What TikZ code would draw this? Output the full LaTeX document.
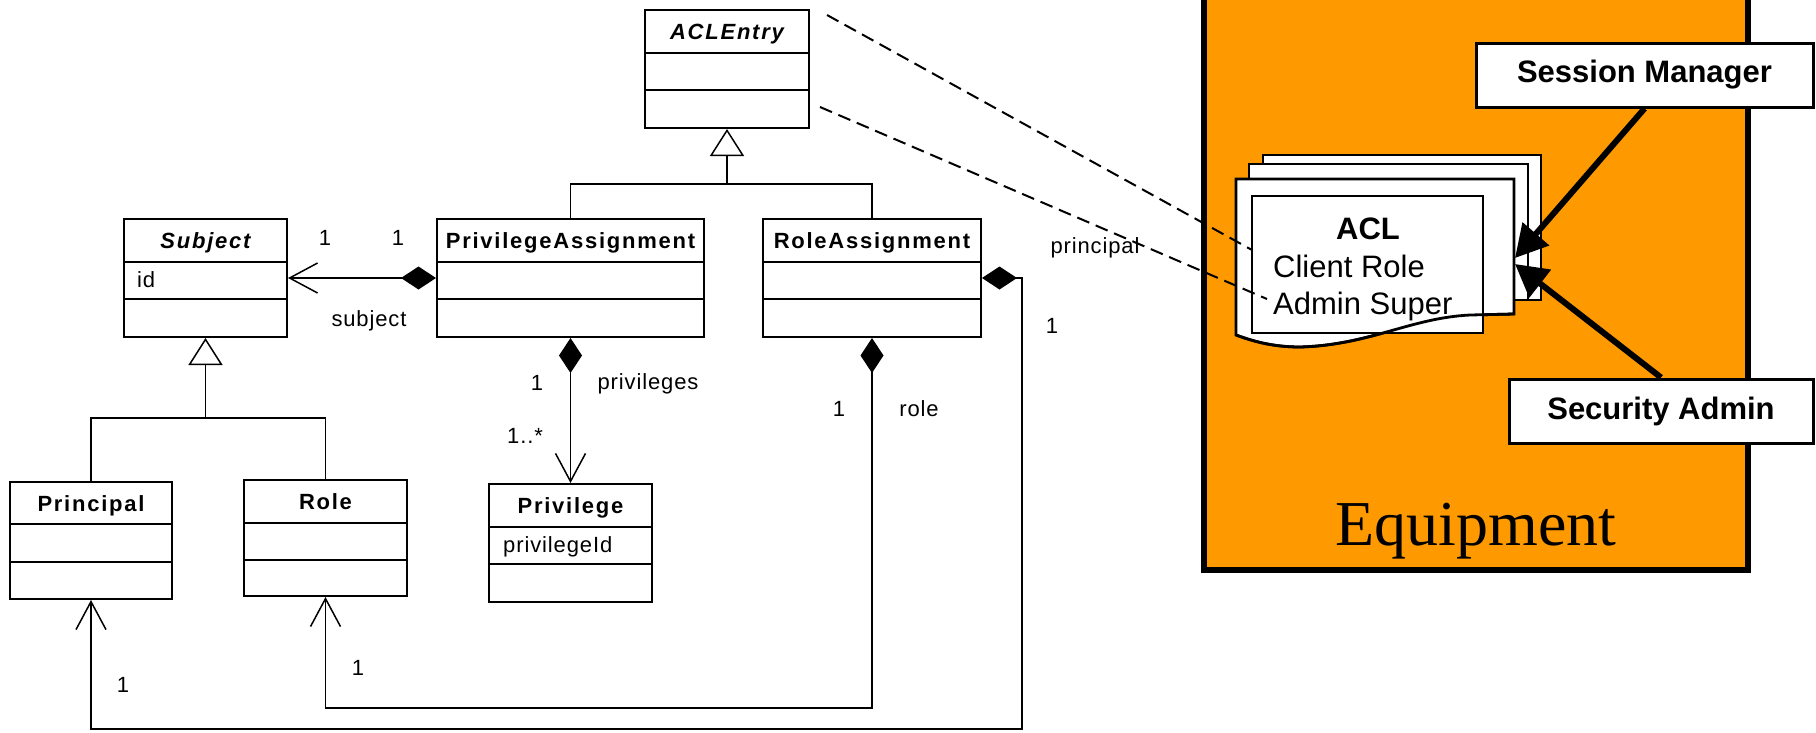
\documentclass[tikz,border=0pt]{standalone}
\usepackage{fontspec}
\setmainfont{Liberation Sans}
\newfontfamily\lblfont[LetterSpace=4]{Liberation Sans}
\newfontfamily\titlefont[LetterSpace=8]{Liberation Sans}
\newfontfamily\eqfont{Liberation Serif}
\usetikzlibrary{fit,arrows.meta}
\definecolor{eqorange}{HTML}{FF9900}

% UML class: name, left, top, right, first separator, second separator, bottom, title
\newcommand\umlclass[8]{%
  \node[classbox, fit={(#2,#3) (#4,#7)}] (#1) {};
  \draw[line width=2pt] (#2,#5) -- (#4,#5) (#2,#6) -- (#4,#6);
  \node[titletext, anchor=base] (#1-title) at ({(#2+#4)/2},{(#3+#5)/2+8}) {#8};
}

\begin{document}
\begin{tikzpicture}[x=1pt, y=-1pt,
  classbox/.style={draw, line width=2pt, fill=white, inner sep=0pt},
  titletext/.style={font=\titlefont\bfseries\fontsize{22pt}{26pt}\selectfont, inner sep=0pt},
  lbl/.style={font=\lblfont\fontsize{22pt}{26pt}\selectfont, inner sep=0pt, anchor=base},
  umlline/.style={line width=1.5pt},
  comp/.style={umlline, {Diamond[length=35pt,width=23pt]}-{Straight Barb[length=28pt,width=30pt]}},
  gen/.style={umlline, -{Triangle[open,length=27pt,width=34pt,fill=white]}},
  page/.style={draw, fill=white, line width=2.8pt, line join=miter},
  trace/.style={line width=2pt, dash pattern=on 13pt off 7pt},
  feed/.style={line width=6pt, -{Triangle[length=32pt,width=34pt]}},
  actor/.style={draw, line width=3pt, fill=white, inner sep=0pt,
    font=\bfseries\fontsize{31pt}{36pt}\selectfont},
  acltext/.style={font=\fontsize{31pt}{36pt}\selectfont, inner sep=0pt}
]
\useasboundingbox (0,0) rectangle (1816,732);
\fill[white] (0,0) rectangle (1816,732);

% ---------- class diagram ----------
\umlclass{aclentry}{645}{10}{809}{53}{90}{128}{\itshape ACLEntry}
\umlclass{subject}{124}{219}{287}{262}{299}{337}{\itshape Subject}
\umlclass{pa}{437}{219}{704}{262}{299}{337}{PrivilegeAssignment}
\umlclass{ra}{763}{219}{981}{262}{299}{337}{RoleAssignment}
\umlclass{principal}{10}{482}{172}{524}{562}{599}{Principal}
\umlclass{role}{244}{480}{407}{523}{560}{596}{Role}
\umlclass{priv}{489}{484}{652}{527}{564}{602}{Privilege}

\node[lbl, anchor=base west] (subject-id) at (137,287) {id};
\node[lbl, anchor=base west] (priv-id) at (503,552) {privilegeId};

% generalizations
\coordinate (entryjoin) at (727,184);
\draw[umlline] (pa.north) |- (entryjoin) -| (ra.north);
\draw[gen] (entryjoin) -- (aclentry.south);
\coordinate (subjjoin) at (205.5,418);
\draw[umlline] (principal.north) |- (subjjoin) -| (role.north);
\draw[gen] (subjjoin) -- (subject.south);

% compositions
\draw[comp] (pa.west) -- (subject.east);
\draw[comp] (pa.south) -- (priv.north);
\coordinate (rolerun) at (872,708);
\draw[comp] (ra.south) -- (rolerun) -| (role.south);
\coordinate (princturn) at (1022,278);
\coordinate (princrun) at (1022,729);
\draw[comp] (ra.east) -- (princturn) -- (princrun) -| (principal.south);

% multiplicities and role names
\node[lbl] (m-subj) at (325,245) {1};
\node[lbl] (m-pa) at (398,245) {1};
\node[lbl] (r-subject) at (369,326) {subject};
\node[lbl] (m-pa2) at (537,390) {1};
\node[lbl] (r-priv) at (648,389) {privileges};
\node[lbl] (m-priv) at (525,443) {1..*};
\node[lbl] (m-ra) at (839,416) {1};
\node[lbl] (r-role) at (919,416) {role};
\node[lbl] (m-role) at (358,675) {1};
\node[lbl] (m-princ) at (123,692) {1};
\node[lbl] (m-ra2) at (1052,333) {1};
\node[lbl] (r-princ) at (1095,253) {principal};

% ---------- equipment ----------
\node[draw, line width=6pt, fill=eqorange, minimum width=544pt, minimum height=590pt,
  inner sep=0pt] (equipment) at (1476,275) {};
\node[font=\eqfont\fontsize{64pt}{70pt}\selectfont, inner sep=0pt, anchor=base]
  (eqlabel) at (1476,545) {Equipment};

% ACL document stack
\draw[page] (1263,155) rectangle (1541,300);
\draw[page] (1249,164) rectangle (1528,300);
\draw[page] (1236,179) -- (1514,179) -- (1514,314) -- (1470,315)
  .. controls (1410,318) and (1370,345) .. (1300,347)
  .. controls (1270,347) and (1250,340) .. (1236,335) -- cycle;
\node[draw, fill=white, line width=2.8pt, minimum width=231pt, minimum height=137pt,
  inner sep=0pt] (acl) at (1367.5,264.5) {};
\draw[line width=2.8pt] (1514,314) -- (1470,315)
  .. controls (1410,318) and (1370,345) .. (1300,347)
  .. controls (1270,347) and (1250,340) .. (1236,335);
\node[acltext, font=\bfseries\fontsize{31pt}{36pt}\selectfont, anchor=base]
  (acl-title) at (1368,239) {ACL};
\node[acltext, anchor=base west] (acl-row1) at (1273,277) {Client Role};
\node[acltext, anchor=base west] (acl-row2) at (1273,314) {Admin Super};

% traces from the class diagram to the ACL
\coordinate (d1s) at (827,15);
\coordinate (d1e) at (1252,250);
\coordinate (d2s) at (820,107);
\coordinate (d2e) at (1267,299);
\draw[trace] (d1s) -- (d1e);
\draw[trace] (d2s) -- (d2e);

% actors
\node[actor, minimum width=337pt, minimum height=64pt] (sm) at (1644.5,75) {Session Manager};
\node[actor, minimum width=304pt, minimum height=64pt] (sa) at (1661,411) {Security Admin};
\coordinate (tip1) at (1515,258);
\coordinate (tip2) at (1515,264);
\draw[feed] (sm.south) -- (tip1);
\draw[feed] (sa.north) -- (tip2);
\end{tikzpicture}
\end{document}
